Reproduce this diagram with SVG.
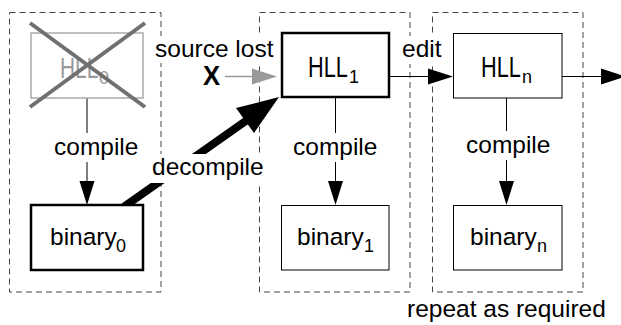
<svg xmlns="http://www.w3.org/2000/svg" width="621" height="325" viewBox="0 0 621 325">
<style>
text{font-family:"Liberation Sans",Arial,sans-serif;font-size:24.5px;fill:#000}
.big{font-size:29px}
.sub{font-size:18px}
.dash{fill:none;stroke:#444;stroke-width:1;stroke-dasharray:6,4}
.thin{fill:#fff;stroke:#000;stroke-width:1}
.thick{fill:#fff;stroke:#000;stroke-width:2.5}
.ln{stroke:#000;stroke-width:1;fill:none}
.bg{fill:#fff}
</style>
<g id="frames">
<rect class="dash" x="9.5" y="12.5" width="151.5" height="279.5"/>
<rect class="dash" x="259.5" y="12.5" width="150.5" height="279.5"/>
<rect class="dash" x="432.5" y="12.5" width="150.5" height="279.5"/>
</g>
<g id="connectors">
<line class="ln" x1="87" y1="98" x2="87" y2="183"/>
<polygon points="79.5,181 94.5,181 87,205"/>
<line class="ln" x1="335.5" y1="97" x2="335.5" y2="183"/>
<polygon points="328,181 343,181 335.5,205"/>
<line class="ln" x1="506.5" y1="98" x2="506.5" y2="183"/>
<polygon points="499,181 514,181 506.5,205"/>
<line class="ln" x1="389" y1="76.5" x2="430" y2="76.5"/>
<polygon points="428,68.5 453,76.5 428,84.5"/>
<line class="ln" x1="562" y1="76.5" x2="604" y2="76.5"/>
<polygon points="601,68.5 626,76.5 601,84.5"/>
<line x1="225" y1="76.5" x2="254" y2="76.5" stroke="#999" stroke-width="1.5"/>
<polygon points="252,68.5 277,76.5 252,84.5" fill="#999"/>
<line x1="125" y1="206" x2="250" y2="118" stroke="#000" stroke-width="8" stroke-linecap="round"/>
<polygon points="279,97 254,133 236,108" fill="#000"/>
</g>
<g id="labels">
<rect class="bg" x="152" y="36" width="123" height="27"/>
<text x="155" y="57">source lost</text>
<text x="203" y="85" style="font-weight:bold;font-size:27px" transform="translate(203,85) scale(0.95,1) translate(-203,-85)">X</text>
<rect class="bg" x="150" y="154" width="112" height="29"/>
<text x="152" y="175">decompile</text>
<rect class="bg" x="400" y="36" width="45" height="28"/>
<text x="402" y="57">edit</text>
<rect class="bg" x="52" y="133" width="88" height="29"/>
<text x="54" y="155">compile</text>
<rect class="bg" x="291" y="133" width="88" height="29"/>
<text x="293" y="155">compile</text>
<rect class="bg" x="464" y="131" width="87" height="29"/>
<text x="466" y="153">compile</text>
<text x="407" y="317">repeat as required</text>
</g>
<g id="hll0">
<rect x="31" y="33" width="112" height="65" fill="#fff" stroke="#aaa" stroke-width="1.5"/>
<text class="big" style="fill:#999" transform="translate(60,78) scale(0.72,1)">HLL</text>
<text class="sub" x="99" y="84" style="fill:#999">0</text>
<line x1="30" y1="23" x2="145" y2="107" stroke="#707070" stroke-width="4"/>
<line x1="30" y1="107" x2="145" y2="23" stroke="#707070" stroke-width="4"/>
</g>
<g id="binary0">
<rect class="thick" x="31" y="205" width="112" height="65"/>
<text x="50" y="245">binary</text>
<text class="sub" x="116" y="252">0</text>
</g>
<g id="hll1">
<rect class="thick" x="282" y="33" width="107" height="64"/>
<text class="big" transform="translate(308,77) scale(0.75,1)">HLL</text>
<text class="sub" x="349" y="83">1</text>
</g>
<g id="binary1">
<rect class="thin" x="281.5" y="205.5" width="107.5" height="64.5"/>
<text x="297" y="245">binary</text>
<text class="sub" x="364" y="252">1</text>
</g>
<g id="hlln">
<rect class="thin" x="453.5" y="33.5" width="108.5" height="64.5"/>
<text class="big" transform="translate(481,77) scale(0.75,1)">HLL</text>
<text class="sub" x="522" y="83">n</text>
</g>
<g id="binaryn">
<rect class="thin" x="453.5" y="205.5" width="108.5" height="64.5"/>
<text x="470" y="245">binary</text>
<text class="sub" x="537" y="252">n</text>
</g>
</svg>
